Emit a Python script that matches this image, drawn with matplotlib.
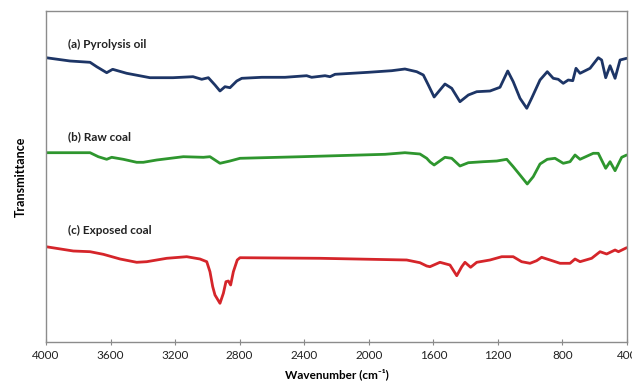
import numpy as np
from matplotlib import pyplot as plt

plt.rcParams['font.family'] = ['Lato', 'DejaVu Sans']

# (a) Pyrolysis oil
wn_a = [4000, 3851, 3727, 3686, 3624, 3587, 3500, 3356, 3213, 3089, 3035, 2994,
        2953, 2922, 2891, 2860, 2818, 2787, 2663, 2519, 2385, 2354, 2271, 2240,
        2209, 2003, 1858, 1776, 1703, 1662, 1631, 1595, 1528, 1486, 1435, 1383,
        1331, 1249, 1187, 1139, 1105, 1063, 1021, 991, 939, 894, 857, 826, 795,
        764, 736, 716, 691, 629, 578, 557, 532, 505, 474, 443, 402]
tr_a = [284.3, 281, 279.7, 275.3, 269.3, 272.7, 268.7, 264.3, 264.3, 265.3, 262.7, 264.3,
        257, 251, 255.3, 254.3, 261, 263.7, 264.7, 264.7, 266.3, 264.7, 266.3, 265.3,
        267.7, 269.7, 271.3, 273, 270.3, 267, 257, 245, 258, 253.7, 240.3, 247,
        250.3, 251, 254.7, 271, 260.3, 243.7, 233.7, 243.7, 262, 270.3, 263.7, 262.7, 258.7,
        262, 261.3, 273.7, 268.7, 273.7, 284.3, 282, 264.3, 276.3, 263.7, 282, 283.7]

# (b) Raw coal
wn_b = [4000, 3727, 3676, 3624, 3593, 3521, 3438, 3397, 3314, 3149, 3025, 2984,
        2922, 2860, 2798, 2416, 1899, 1776, 1683, 1641, 1620, 1595, 1528, 1486,
        1435, 1383, 1290, 1207, 1145, 1105, 1063, 1018, 981, 939, 894, 846, 795,
        753, 722, 691, 609, 578, 532, 505, 474, 433, 402]
tr_b = [189.3, 189.3, 185.3, 182.7, 184.7, 182.7, 179.7, 179.7, 182, 185.3, 184.7, 185.3,
        178.7, 181, 183.7, 185.3, 187.7, 189.3, 188, 183.7, 180, 177, 184.7, 183.7,
        176, 179.3, 180.3, 181, 182.7, 175.3, 167, 158, 165.3, 178, 182.7, 183.7, 178.7,
        180.3, 187, 182.7, 188.7, 188.7, 173.7, 180.3, 171.3, 184.7, 187]

# (c) Exposed coal
wn_c = [4000, 3831, 3727, 3645, 3541, 3438, 3376, 3252, 3128, 3046, 3004, 2984,
        2967, 2953, 2922, 2901, 2885, 2870, 2856, 2839, 2815, 2798, 2302, 1765,
        1683, 1641, 1621, 1559, 1497, 1455, 1424, 1404, 1369, 1331, 1249, 1176,
        1105, 1053, 1001, 960, 929, 877, 815, 753, 722, 691, 619, 567, 526, 474,
        453, 402]
tr_c = [95.3, 91, 90.3, 87.7, 83, 79.7, 80.3, 83.7, 85.3, 83, 80.3, 70.3,
        55.3, 47, 38.7, 48.7, 60.3, 61, 57, 70.3, 82, 84.3, 83.7, 82,
        79.3, 76, 75.3, 79.7, 77, 66.3, 75.3, 79.7, 74.7, 79.7, 82, 85.3,
        85.3, 80.3, 78.7, 81.3, 84.7, 82, 78.7, 78.7, 83, 80.3, 83.7, 90.3, 88, 92,
        90.3, 94.3]

labels = ["(a) Pyrolysis oil", "(b) Raw coal", "(c) Exposed coal"]
label_y = [298, 205, 112]
colors = ["#1d3566", "#2e962e", "#d5252a"]
ticks = [4000, 3600, 3200, 2800, 2400, 2000, 1600, 1200, 800, 400]

fig = plt.figure(figsize=(6.32, 3.87), dpi=100)
ax = fig.add_axes([46 / 632, 45 / 387, 581 / 632, 331 / 387])

for wn, tr, c in zip([wn_a, wn_b, wn_c], [tr_a, tr_b, tr_c], colors):
    ax.plot(wn, tr, color=c, lw=2.0, solid_joinstyle='round', solid_capstyle='round')

for lab, y in zip(labels, label_y):
    ax.text(3864, y, lab, fontsize=8.5, fontweight='bold', va='center', ha='left',
            color='#222222')

ax.set_xlim(4000, 400)
ax.set_ylim(0, 331)
ax.set_xticks(ticks)
ax.set_yticks([])
ax.tick_params(axis='x', direction='inout', length=4, width=0.8, color='#888888',
               labelsize=8.5, pad=4, labelcolor='#222222')
for s in ax.spines.values():
    s.set_color('#8c8c8c')
    s.set_linewidth(1.0)

ax.set_xlabel("Wavenumber (cm⁻¹)", fontsize=8.5, fontweight='bold', labelpad=5)
ax.set_ylabel("Transmittance", fontsize=9, fontweight='bold', labelpad=14)

fig.savefig("out.png", dpi=100)
